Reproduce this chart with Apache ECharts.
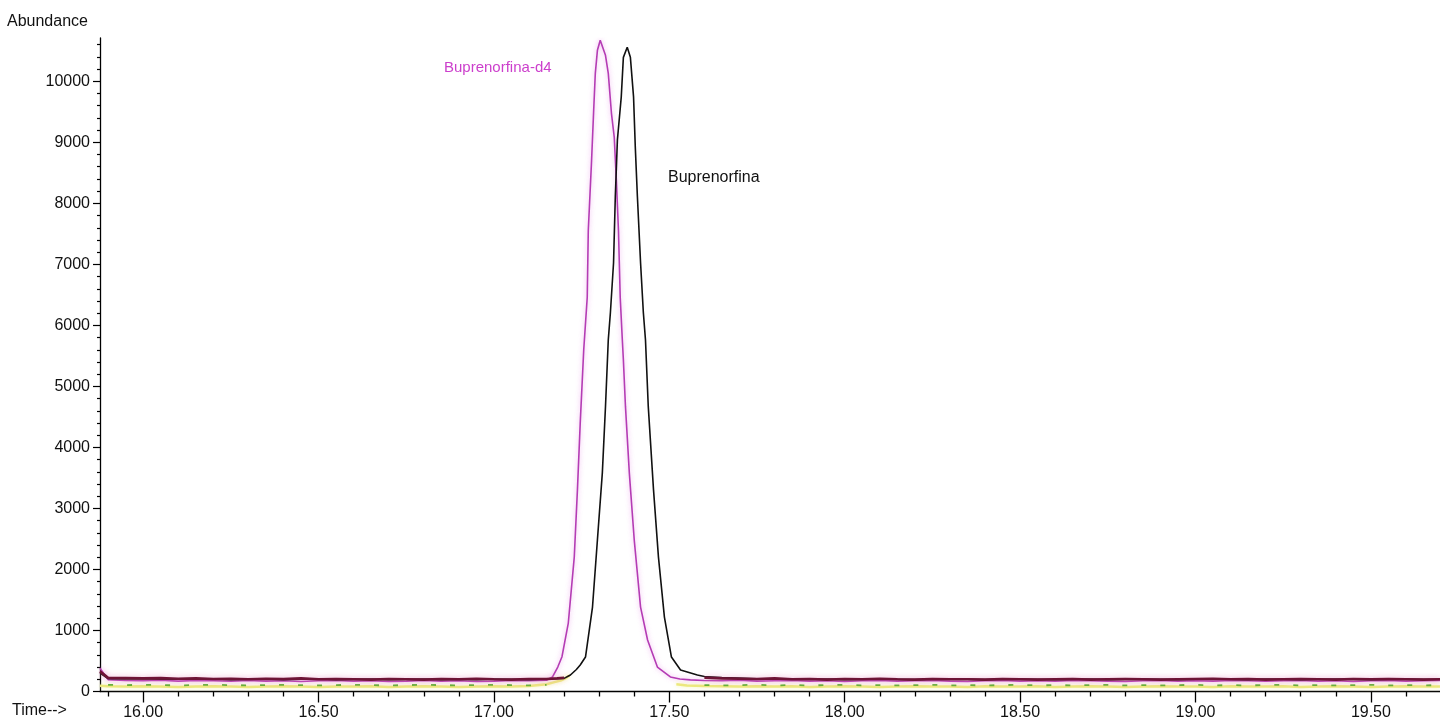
<!DOCTYPE html>
<html>
<head>
<meta charset="utf-8">
<script src="https://cdn.jsdelivr.net/npm/echarts@6/dist/echarts.min.js"></script>
<style>
html,body{margin:0;padding:0;background:#fff;}
#chart{width:1440px;height:723px;}
</style>
</head>
<body>
<div id="chart"></div>
<script>
// ---- Axis tick labels ----
const xMajorTicks = [16.0, 16.5, 17.0, 17.5, 18.0, 18.5, 19.0, 19.5];
const yMajorTicks = [0, 1000, 2000, 3000, 4000, 5000, 6000, 7000, 8000, 9000, 10000];
const xLabelDecimals = 2;

// ---- Shared baseline sample times (minutes) ----
const baseTimesPre = [15.877,15.9,15.95,16.0,16.05,16.1,16.15,16.2,16.25,16.3,16.35,16.4,16.45,16.5,16.55,16.6,16.65,16.7,16.75,16.8,16.85,16.9,16.95,17.0,17.05,17.1,17.15];
const baseTimesPost = [17.6,17.65,17.7,17.75,17.8,17.85,17.9,17.95,18.0,18.05,18.1,18.15,18.2,18.25,18.3,18.35,18.4,18.45,18.5,18.55,18.6,18.65,18.7,18.75,18.8,18.85,18.9,18.95,19.0,19.05,19.1,19.15,19.2,19.25,19.3,19.35,19.4,19.45,19.5,19.55,19.6,19.65,19.697];

// ---- Buprenorfina-d4 (magenta) ----
const d4Pre = [380,195,180,175,185,170,180,175,170,180,170,175,165,175,180,170,175,165,170,180,170,175,165,170,180,175,185];
const d4PeakTimes = [17.167,17.182,17.194,17.212,17.229,17.238,17.246,17.256,17.266,17.269,17.278,17.284,17.289,17.295,17.303,17.318,17.326,17.335,17.343,17.349,17.355,17.360,17.366,17.369,17.375,17.386,17.400,17.418,17.438,17.466,17.503,17.53,17.56];
const d4PeakVals = [238,401,570,1122,2203,3300,4398,5600,6462,7559,8657,9476,10131,10508,10672,10426,10131,9476,9083,8378,7559,6462,5765,5438,4668,3579,2482,1384,844,401,238,205,190];
const d4Post = [180,175,185,170,175,180,170,175,165,175,180,170,175,180,170,165,175,180,170,175,170,180,175,170,165,175,180,170,175,170,180,175,170,175,180,170,175,165,175,180,170,175,180];

// ---- Buprenorfina (black) ----
const bupPre = [300,210,205,210,200,205,200,210,195,200,205,195,200,210,195,200,205,195,200,205,195,200,195,205,200,195,205];
const bupPeakTimes = [17.2,17.218,17.235,17.246,17.261,17.281,17.295,17.309,17.318,17.326,17.332,17.341,17.346,17.352,17.363,17.369,17.380,17.389,17.398,17.403,17.409,17.418,17.426,17.432,17.440,17.455,17.469,17.486,17.506,17.532,17.58];
const bupPeakVals = [215,270,360,434,565,1384,2482,3579,4668,5765,6208,7027,8108,9042,9746,10393,10557,10393,9746,8919,8108,7027,6208,5765,4668,3300,2203,1220,565,352,270];
const bupPost = [245,230,220,210,205,210,200,205,195,200,205,200,195,200,205,200,195,200,205,200,195,200,205,195,200,205,200,195,200,205,200,195,205,200,195,200,205,200,195,200,205,200,200];

// ---- Maroon trace (baseline only visible) ----
const maroonPre = [330,225,220,215,220,210,215,205,210,200,210,205,215,200,205,200,195,205,200,195,205,200,210,200,195,205,205];
const maroonRiseTimes = [17.18,17.2];
const maroonRiseVals = [215,225];
const maroonPost = [225,215,210,205,215,200,205,195,205,200,210,200,195,205,200,200,195,205,200,195,200,205,195,200,205,200,195,200,205,210,200,205,195,200,205,200,195,205,200,205,200,195,200];

// ---- Yellow trace ----
const yellowPre = [95,85,80,85,80,75,80,85,80,75,80,85,80,75,80,80,85,75,80,85,80,75,80,85,80,90,120];
const yellowRiseTimes = [17.17,17.19,17.205,17.215];
const yellowRiseVals = [150,180,220,260];
const yellowBackTimes = [17.52,17.55];
const yellowBackVals = [120,100];
const yellowPost = [90,85,80,85,80,85,75,80,85,80,75,80,85,80,80,75,85,80,80,85,75,80,85,80,75,80,85,80,80,75,85,80,80,85,75,80,85,80,75,80,85,80,80];

// ---- Green trace ----
const greenPre = [110,110,105,110,105,100,105,110,105,100,105,110,105,100,105,110,105,100,105,110,105,100,105,110,105,100,110];
const greenPost = [105,100,105,110,100,105,100,105,110,100,105,100,105,110,100,105,100,105,110,100,105,100,105,110,100,105,100,105,110,100,105,100,105,110,100,105,100,105,110,100,105,100,105];

function pairs(ts, vs){ return ts.map((t,i)=>[t, vs[i]]); }
const GAP = [[17.38, '-']];

const d4Data = [].concat(pairs(baseTimesPre,d4Pre), pairs(d4PeakTimes,d4PeakVals), pairs(baseTimesPost,d4Post));
const bupData = [].concat(pairs(baseTimesPre,bupPre), pairs(bupPeakTimes,bupPeakVals), pairs(baseTimesPost,bupPost));
const maroonData = [].concat(pairs(baseTimesPre,maroonPre), pairs(maroonRiseTimes,maroonRiseVals), GAP, pairs(baseTimesPost,maroonPost));
const yellowData = [].concat(pairs(baseTimesPre,yellowPre), pairs(yellowRiseTimes,yellowRiseVals), GAP, pairs(yellowBackTimes,yellowBackVals), pairs(baseTimesPost,yellowPost));
const greenData = [].concat(pairs(baseTimesPre.slice(1),greenPre.slice(1)), GAP, pairs(baseTimesPost,greenPost));

const xMin = 15.877, xMax = 19.697, yMax = 10710;
const xMinorTicks = [];
for (let k = 159; k <= 196; k++) { if (k % 5 !== 0) xMinorTicks.push(k/10); }
const yMinorTicks = [];
for (let v = 200; v <= 10600; v += 200) { if (v % 1000 !== 0) yMinorTicks.push(v); }

const FONT = "'Liberation Sans', Arial, sans-serif";
const chart = echarts.init(document.getElementById('chart'), null, {renderer:'canvas'});

const baseX = {
  type:'value', min:xMin, max:xMax, position:'bottom', gridIndex:0,
  splitLine:{show:false}
};
const baseY = {
  type:'value', min:0, max:yMax, position:'left', gridIndex:0,
  splitLine:{show:false}
};

chart.setOption({
  animation:false,
  backgroundColor:'#ffffff',
  grid:{left:100, right:0, top:38, bottom:31.5, containLabel:false},
  xAxis:[
    Object.assign({}, baseX, {
      axisLine:{show:true, lineStyle:{color:'#000', width:1.3}},
      axisTick:{show:true, customValues:xMajorTicks, length:11, lineStyle:{color:'#000', width:1.3}},
      axisLabel:{show:true, customValues:xMajorTicks, margin:13, color:'#111', fontSize:16, fontFamily:FONT,
        formatter:(v)=>Number(v).toFixed(xLabelDecimals)}
    }),
    Object.assign({}, baseX, {
      axisLine:{show:false},
      axisTick:{show:true, customValues:xMinorTicks, length:5, lineStyle:{color:'#000', width:1.3}},
      axisLabel:{show:false, customValues:xMinorTicks}
    })
  ],
  yAxis:[
    Object.assign({}, baseY, {
      axisLine:{show:true, lineStyle:{color:'#000', width:1.3}},
      axisTick:{show:true, customValues:yMajorTicks, length:7, lineStyle:{color:'#000', width:1.2}},
      axisLabel:{show:true, customValues:yMajorTicks, margin:10, color:'#111', fontSize:16, fontFamily:FONT,
        formatter:(v)=>String(Math.round(v))}
    }),
    Object.assign({}, baseY, {
      axisLine:{show:false},
      axisTick:{show:true, customValues:yMinorTicks, length:3, lineStyle:{color:'#000', width:1.2}},
      axisLabel:{show:false, customValues:yMinorTicks}
    })
  ],
  series:[
    {type:'line', name:'yellow', data:yellowData, showSymbol:false, z:2,
      lineStyle:{color:'#ecea7c', width:2.5, shadowColor:'rgba(245,245,170,0.9)', shadowBlur:4}},
    {type:'line', name:'green', data:greenData, showSymbol:false, z:3,
      lineStyle:{color:'#5fb332', width:1.8, type:[5,14]}},
    {type:'line', name:'Buprenorfina-d4', data:d4Data, showSymbol:false, z:4,
      lineStyle:{color:'#b43cb4', width:1.6, shadowColor:'rgba(235,150,235,0.8)', shadowBlur:5}},
    {type:'line', name:'Buprenorfina', data:bupData, showSymbol:false, z:5,
      lineStyle:{color:'#111111', width:1.6}},
    {type:'line', name:'maroon', data:maroonData, showSymbol:false, z:6,
      lineStyle:{color:'#6e1436', width:2.6, shadowColor:'rgba(235,140,180,0.6)', shadowBlur:6}}
  ],
  graphic:[
    {type:'text', left:7, top:14, style:{text:'Abundance', fill:'#111', font:'16px '+FONT}},
    {type:'text', left:12, top:703, style:{text:'Time-->', fill:'#111', font:'16px '+FONT}},
    {type:'text', left:444, top:60, style:{text:'Buprenorfina-d4', fill:'#cc3fcc', font:'15px '+FONT}},
    {type:'text', left:668, top:170, style:{text:'Buprenorfina', fill:'#111', font:'16px '+FONT}}
  ]
});
</script>
</body>
</html>
